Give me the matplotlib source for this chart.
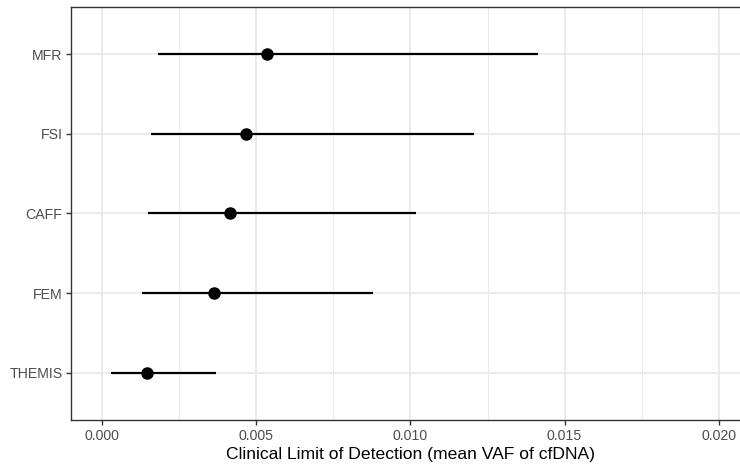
import matplotlib.pyplot as plt
import matplotlib.ticker as mticker

plt.rcParams['font.family'] = ['Liberation Sans', 'DejaVu Sans']

# detection limits per model, bottom to top
models = ["THEMIS", "FEM", "CAFF", "FSI", "MFR"]
lod_mean = [0.00146, 0.00364, 0.00416, 0.00467, 0.00536]
lod_low = [0.00029, 0.00130, 0.00150, 0.00157, 0.00180]
lod_high = [0.00369, 0.00878, 0.01017, 0.01207, 0.01414]

W, H, DPI = 740, 466, 100
fig = plt.figure(figsize=(W / DPI, H / DPI), dpi=DPI)
# panel runs past the right edge of the figure
ax = fig.add_axes([71.3 / W, (H - 420.3) / H, (749.6 - 71.3) / W, (420.3 - 6.7) / H])

ypos = list(range(1, len(models) + 1))
ax.hlines(ypos, lod_low, lod_high, color="black", linewidth=1.6, zorder=3)
ax.plot(lod_mean, ypos, "o", color="black", markersize=8, zorder=4)

ax.set_xlim(-0.001, 0.021)
ax.set_ylim(0.4, len(models) + 0.6)
ax.set_yticks(ypos)
ax.set_yticklabels(models)
ax.xaxis.set_major_locator(mticker.MultipleLocator(0.005))
ax.xaxis.set_minor_locator(mticker.MultipleLocator(0.0025))
ax.xaxis.set_major_formatter(mticker.FormatStrFormatter("%.3f"))

ax.grid(which="major", color="#EBEBEB", linewidth=1.42, zorder=0)
ax.grid(which="minor", axis="x", color="#EBEBEB", linewidth=0.71, zorder=0)
ax.set_axisbelow(True)

for s in ax.spines.values():
    s.set_color("#333333")
    s.set_linewidth(1.0)
ax.spines["right"].set_visible(False)

ax.tick_params(which="major", length=3.8, width=1.0, color="#333333",
               labelsize=10.2, labelcolor="#4D4D4D", pad=2.5)
ax.tick_params(which="minor", length=0)

ax.set_xlabel("Clinical Limit of Detection (mean VAF of cfDNA)", fontsize=12.6,
              color="black", labelpad=3)

fig.savefig("out.png", dpi=DPI)
